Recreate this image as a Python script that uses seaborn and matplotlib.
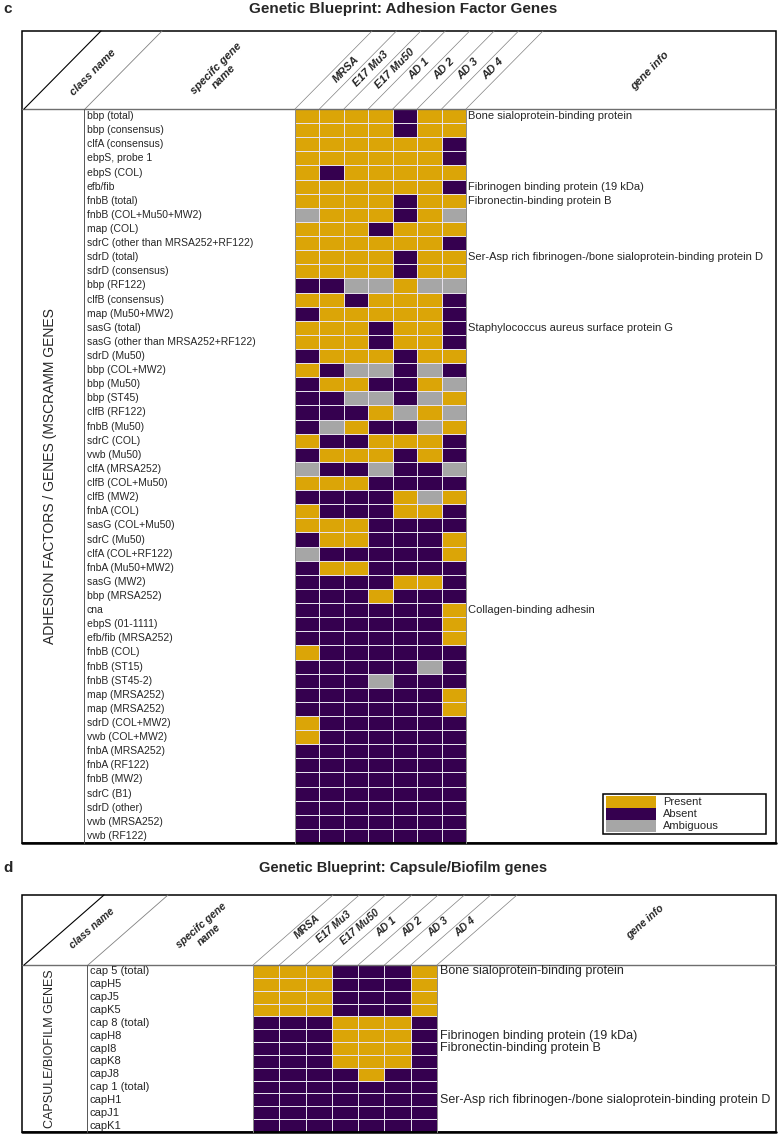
import numpy as np
import pandas as pd
import matplotlib
matplotlib.use("Agg")
import matplotlib.pyplot as plt
import seaborn as sns
from matplotlib.colors import ListedColormap
from matplotlib.patches import Rectangle
from matplotlib.transforms import blended_transform_factory

# data: P = present, A = absent, G = ambiguous (grey)
strains = ["MRSA", "E17 Mu3", "E17 Mu50", "AD 1", "AD 2", "AD 3", "AD 4"]

adhesion_genes = [
    "bbp (total)", "bbp (consensus)", "clfA (consensus)", "ebpS, probe 1", "ebpS (COL)",
    "efb/fib", "fnbB (total)", "fnbB (COL+Mu50+MW2)", "map (COL)",
    "sdrC (other than MRSA252+RF122)", "sdrD (total)", "sdrD (consensus)", "bbp (RF122)",
    "clfB (consensus)", "map (Mu50+MW2)", "sasG (total)", "sasG (other than MRSA252+RF122)",
    "sdrD (Mu50)", "bbp (COL+MW2)", "bbp (Mu50)", "bbp (ST45)", "clfB (RF122)", "fnbB (Mu50)",
    "sdrC (COL)", "vwb (Mu50)", "clfA (MRSA252)", "clfB (COL+Mu50)", "clfB (MW2)", "fnbA (COL)",
    "sasG (COL+Mu50)", "sdrC (Mu50)", "clfA (COL+RF122)", "fnbA (Mu50+MW2)", "sasG (MW2)",
    "bbp (MRSA252)", "cna", "ebpS (01-1111)", "efb/fib (MRSA252)", "fnbB (COL)", "fnbB (ST15)",
    "fnbB (ST45-2)", "map (MRSA252)", "map (MRSA252)", "sdrD (COL+MW2)", "vwb (COL+MW2)",
    "fnbA (MRSA252)", "fnbA (RF122)", "fnbB (MW2)", "sdrC (B1)", "sdrD (other)",
    "vwb (MRSA252)", "vwb (RF122)",
]
adhesion_calls = [
    "PPPPAPP", "PPPPAPP", "PPPPPPA", "PPPPPPA", "PAPPPPP",
    "PPPPPPA", "PPPPAPP", "GPPPAPG", "PPPAPPP",
    "PPPPPPA", "PPPPAPP", "PPPPAPP", "AAGGPGG",
    "PPAPPPA", "APPPPPA", "PPPAPPA", "PPPAPPA",
    "APPPAPP", "PAGGAGA", "APPAAPG", "AAGGAGP", "AAAPGPG", "AGPAAGP",
    "PAAPPPA", "APPPAPA", "GAAGAAG", "PPPAAAA", "AAAAPGP", "PAAAPPA",
    "PPPAAAA", "APPAAAP", "GAAAAAP", "APPAAAA", "AAAAPPA",
    "AAAPAAA", "AAAAAAP", "AAAAAAP", "AAAAAAP", "PAAAAAA", "AAAAAGA",
    "AAAGAAA", "AAAAAAP", "AAAAAAP", "PAAAAAA", "PAAAAAA",
    "AAAAAAA", "AAAAAAA", "AAAAAAA", "AAAAAAA", "AAAAAAA",
    "AAAAAAA", "AAAAAAA",
]
adhesion_info = {
    "bbp (total)": "Bone sialoprotein-binding protein",
    "efb/fib": "Fibrinogen binding protein (19 kDa)",
    "fnbB (total)": "Fibronectin-binding protein B",
    "sdrD (total)": "Ser-Asp rich fibrinogen-/bone sialoprotein-binding protein D",
    "sasG (total)": "Staphylococcus aureus surface protein G",
    "cna": "Collagen-binding adhesin",
}

capsule_genes = ["cap 5 (total)", "capH5", "capJ5", "capK5", "cap 8 (total)", "capH8",
                 "capI8", "capK8", "capJ8", "cap 1 (total)", "capH1", "capJ1", "capK1"]
capsule_calls = ["PPPAAAP", "PPPAAAP", "PPPAAAP", "PPPAAAP", "AAAPPPA", "AAAPPPA",
                 "AAAPPPA", "AAAPPPA", "AAAAPAA", "AAAAAAA", "AAAAAAA", "AAAAAAA", "AAAAAAA"]
capsule_info = {
    "cap 5 (total)": "Bone sialoprotein-binding protein",
    "capH8": "Fibrinogen binding protein (19 kDa)",
    "capI8": "Fibronectin-binding protein B",
    "capH1": "Ser-Asp rich fibrinogen-/bone sialoprotein-binding protein D",
}

legend_labels = ["Present", "Absent", "Ambiguous"]

present, absent, ambig = "#DBA507", "#35004F", "#A6A6A6"
code = {"A": 0, "P": 1, "G": 2}
cmap = ListedColormap([absent, present, ambig])

sns.set_theme(style="white")
plt.rcParams["font.family"] = ["Liberation Sans", "DejaVu Sans"]

W, H = 778, 1135
fig = plt.figure(figsize=(W / 100, H / 100), dpi=100)

# overlay axes in pixel coordinates, drawn on top of the heatmaps
ov = fig.add_axes([0, 0, 1, 1])
ov.set_xlim(0, W)
ov.set_ylim(H, 0)
ov.axis("off")
ov.set_zorder(10)
ov.patch.set_visible(False)


def px_axes(x0, y0, x1, y1):
    return fig.add_axes([x0 / W, 1 - y1 / H, (x1 - x0) / W, (y1 - y0) / H])


def panel(genes, calls, info, letter, title, title_y, tfs, class_label,
          top, head_bot, bot, name_x, gx0, gx1, info_x, fs, ifs, hfs, cfs, dx,
          class_xy, gene_xy, lab_off, lab_y, info_xy):
    df = pd.DataFrame([[code[c] for c in row] for row in calls], columns=strains)
    ax = px_axes(gx0, head_bot, gx1, bot)
    sns.heatmap(df, ax=ax, cmap=cmap, vmin=-0.5, vmax=2.5, cbar=False,
                linewidths=0.5, linecolor="#E6E1EC",
                xticklabels=False, yticklabels=False)
    ax.set_xlabel("")
    ax.set_ylabel("")

    tr = blended_transform_factory(ov.transData, ax.transData)
    for i, g in enumerate(genes):
        ov.text(name_x + 3, i + 0.5, g, transform=tr, ha="left", va="center", fontsize=fs)
        if g in info:
            ov.text(info_x, i + 0.5, info[g], transform=tr, ha="left", va="center", fontsize=ifs)

    # title and panel letter
    ov.text(3, title_y, letter, ha="left", va="center", fontsize=11, fontweight="bold")
    ov.text(403, title_y, title, ha="center", va="center", fontsize=tfs, fontweight="bold")

    # frame
    ov.add_patch(Rectangle((22, top), 754, bot - top, fill=False, ec="black", lw=1.1))
    ov.plot([22, 776], [bot, bot], color="black", lw=1.8)
    ov.plot([22, 776], [head_bot, head_bot], color="#6E6E6E", lw=1.0)
    ov.plot([name_x, name_x], [head_bot, bot], color="#555555", lw=0.7)
    ov.plot([gx0, gx0], [head_bot, bot], color="#8A8A8A", lw=0.7)
    ov.plot([gx1, gx1], [head_bot, bot], color="#8A8A8A", lw=0.7)

    # slanted header
    hh = head_bot - top
    ang = np.degrees(np.arctan2(hh, dx))
    ov.plot([24, 24 + dx], [head_bot, top], color="black", lw=0.8)
    ov.plot([name_x + 1, name_x + 1 + dx], [head_bot, top], color="#808080", lw=0.6)
    cw = (gx1 - gx0) / len(strains)
    for k in range(len(strains) + 1):
        x = gx0 + k * cw
        ov.plot([x, x + dx], [head_bot, top], color="#808080", lw=0.5)
    hkw = dict(rotation=ang, rotation_mode="anchor", ha="center", va="center",
               fontsize=hfs, fontweight="bold", fontstyle="italic")
    ov.text(*class_xy, "class name", **hkw)
    ov.text(*gene_xy, "specifc gene\nname", multialignment="center", **hkw)
    for k, s in enumerate(strains):
        ov.text(gx0 + (k + 0.5) * cw + lab_off, lab_y, s, **hkw)
    ov.text(*info_xy, "gene info", **hkw)

    ov.text(50, (head_bot + bot) / 2, class_label, rotation=90, ha="center", va="center",
            fontsize=cfs)


panel(adhesion_genes, adhesion_calls, adhesion_info, "c",
      "Genetic Blueprint: Adhesion Factor Genes", 9, 11,
      "ADHESION FACTORS / GENES (MSCRAMM GENES",
      top=31, head_bot=109, bot=843, name_x=84, gx0=295, gx1=466, info_x=468,
      fs=7.5, ifs=8, hfs=8, cfs=10, dx=77, class_xy=(93, 72), gene_xy=(220, 72),
      lab_off=39, lab_y=69, info_xy=(650, 71))

panel(capsule_genes, capsule_calls, capsule_info, "d",
      "Genetic Blueprint: Capsule/Biofilm genes", 868, 10.5,
      "CAPSULE/BIOFILM GENES",
      top=895, head_bot=965, bot=1132, name_x=87, gx0=253, gx1=437, info_x=440,
      fs=8, ifs=9, hfs=7.5, cfs=9, dx=80, class_xy=(92, 928), gene_xy=(205, 930),
      lab_off=41, lab_y=927, info_xy=(645, 922))

# legend for panel c
lx0, ly0, lx1, ly1 = 603, 794, 766, 834
ov.add_patch(Rectangle((lx0, ly0), lx1 - lx0, ly1 - ly0, fill=False, ec="black", lw=1.1))
rh = (ly1 - ly0 - 4) / 3
for i, (lab, col) in enumerate(zip(legend_labels, [present, absent, ambig])):
    y = ly0 + 2 + i * rh
    ov.add_patch(Rectangle((lx0 + 3, y), 50, rh, color=col, lw=0))
    ov.text(lx0 + 60, y + rh / 2, lab, ha="left", va="center", fontsize=8)

fig.savefig("out.png", dpi=100, facecolor="white")
